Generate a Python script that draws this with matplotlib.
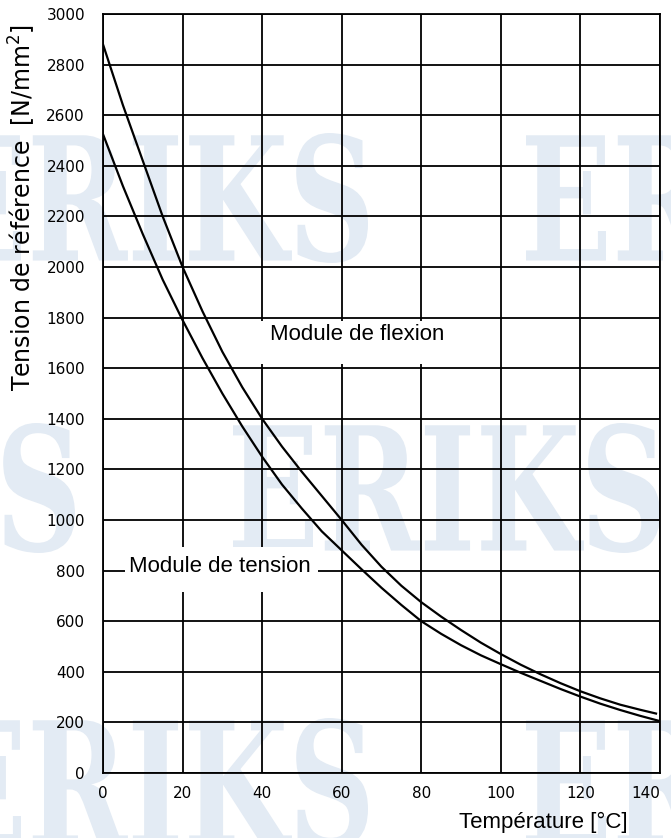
import matplotlib
matplotlib.use('Agg')
import matplotlib.pyplot as plt
from matplotlib.textpath import TextPath
from matplotlib.patches import PathPatch, Rectangle
from matplotlib.font_manager import FontProperties
from matplotlib.transforms import Affine2D

# temperature [°C] and reference stress [N/mm²]
temp_flexion = [0, 5, 10, 15, 20, 25, 30, 35, 40, 45, 50, 55, 60, 65, 70,
                75, 80, 85, 90, 95, 100, 105, 110, 115, 120, 125, 130, 135, 139]
flexion = [2880, 2640, 2420, 2200, 2000, 1825, 1665, 1525, 1400, 1290, 1190, 1095, 1000, 902, 815,
           740, 675, 618, 565, 515, 470, 428, 390, 355, 323, 295, 270, 250, 235]

temp_tension = [0, 5, 10, 15, 20, 25, 30, 35, 40, 45, 50, 55, 60, 65, 70,
                75, 80, 85, 90, 95, 100, 105, 110, 115, 120, 125, 130, 135, 140]
tension = [2525, 2320, 2130, 1950, 1790, 1640, 1500, 1370, 1250, 1140, 1045, 955, 880, 805, 732,
           664, 600, 550, 505, 465, 430, 396, 364, 332, 302, 274, 249, 226, 205]

x_ticks = [0, 20, 40, 60, 80, 100, 120, 140]
y_ticks = list(range(0, 3001, 200))

W, H = 671, 838
fig = plt.figure(figsize=(W / 100, H / 100), dpi=100)
fig.patch.set_facecolor('white')

# faint ERIKS watermark behind the chart
wm_font = FontProperties(family='DejaVu Serif', weight='bold')
tp = TextPath((0, 0), 'ERIKS', prop=wm_font)
ext = tp.get_extents()
word_w, word_h = 427, 130
for x0, top in [(-59, 133), (526, 133), (-352, 423), (233, 423), (-59, 718), (526, 718)]:
    tr = (Affine2D().translate(-ext.x0, -ext.y0)
          .scale(word_w / ext.width, word_h / ext.height)
          .translate(x0, H - top - word_h)
          .scale(1 / W, 1 / H) + fig.transFigure)
    fig.add_artist(PathPatch(tp, transform=tr, facecolor='#e3ebf4', edgecolor='none', zorder=-5))

ax = fig.add_axes([103 / W, 65 / H, 557 / W, 759 / H])
ax.set_facecolor('none')
ax.set_xlim(0, 140)
ax.set_ylim(0, 3000)
ax.set_xticks(x_ticks)
ax.set_yticks(y_ticks)
ax.set_axisbelow(True)
ax.grid(True, color='black', linewidth=1.3)
for s in ax.spines.values():
    s.set_linewidth(1.3)
ax.tick_params(length=0, labelsize=11, pad=9)
ax.tick_params(axis='y', pad=13)
xl = ax.get_xticklabels()
xl[-1].set_horizontalalignment('right')

ax.plot(temp_flexion, flexion, color='black', linewidth=1.6, zorder=3)
ax.plot(temp_tension, tension, color='black', linewidth=1.6, zorder=3)

# white patches behind the curve labels, cutting the grid
ax.add_patch(Rectangle((39, 1615), 57, 170, facecolor='white', edgecolor='none', zorder=1.5))
ax.add_patch(Rectangle((5.5, 715), 48.5, 180, facecolor='white', edgecolor='none', zorder=1.5))
ax.text(64, 1735, 'Module de flexion', family='Liberation Sans', fontsize=16,
        ha='center', va='center', zorder=4)
ax.text(29.5, 815, 'Module de tension', family='Liberation Sans', fontsize=16,
        ha='center', va='center', zorder=4)

fig.text(22 / W, 1 - 207 / H, 'Tension de référence  [N/mm$^2$]', family='DejaVu Sans',
         fontsize=17, rotation=90, ha='center', va='center')
fig.text(628 / W, 1 - 822 / H, 'Température [°C]', family='Liberation Sans',
         fontsize=16, ha='right', va='center')

fig.savefig('out.png', dpi=100)
